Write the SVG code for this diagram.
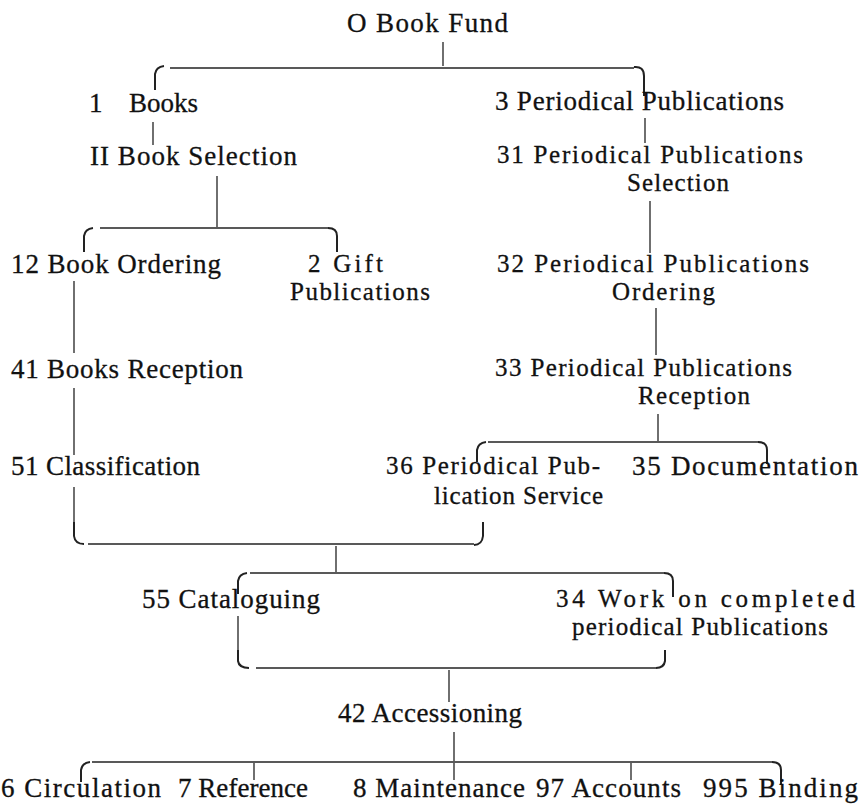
<svg xmlns="http://www.w3.org/2000/svg" width="863" height="808" viewBox="0 0 863 808">
<style>
text{font-family:"Liberation Serif","Times New Roman",serif;font-size:27px;fill:#111;stroke:#111;stroke-width:0.3}
text.t{font-size:25px}
.c line,.c path{stroke:#222;stroke-width:1.3;fill:none}
.c path{stroke-width:2}
</style>
<rect width="863" height="808" fill="#fff"/>
<g class="c" id="connectors">
<line x1="443" y1="42" x2="443" y2="66"/>
<line x1="170" y1="68" x2="634" y2="68"/>
<path d="M155 90 L155 74 Q156 67 164 66"/>
<path d="M634 67 Q644 66 644 76 L644 96"/>
<line x1="153" y1="122" x2="153" y2="145"/>
<line x1="645" y1="118" x2="645" y2="143"/>
<line x1="217" y1="176" x2="217" y2="227"/>
<line x1="100" y1="228" x2="328" y2="228"/>
<path d="M84 252 L84 236 Q85 229 93 228"/>
<path d="M328 228 Q337 228 337 236 L337 252"/>
<line x1="650" y1="201" x2="650" y2="253"/>
<line x1="74" y1="281" x2="74" y2="353"/>
<line x1="656" y1="308" x2="656" y2="355"/>
<line x1="74" y1="388" x2="74" y2="455"/>
<line x1="658" y1="414" x2="658" y2="441"/>
<line x1="488" y1="442" x2="758" y2="442"/>
<path d="M477 462 L477 450 Q478 443 486 442"/>
<path d="M758 442 Q767 442 767 450 L767 464"/>
<line x1="74" y1="487" x2="74" y2="525"/>
<path d="M74 522 L74 536 Q75 544 84 544"/>
<line x1="88" y1="544" x2="474" y2="544"/>
<path d="M483 522 L483 536 Q482 545 474 545"/>
<line x1="336" y1="546" x2="336" y2="572"/>
<line x1="250" y1="573" x2="664" y2="573"/>
<path d="M238 594 L238 581 Q239 574 247 573"/>
<path d="M664 573 Q673 573 673 581 L673 597"/>
<line x1="238" y1="616" x2="238" y2="650"/>
<path d="M238 650 L238 661 Q239 668 249 668"/>
<line x1="256" y1="668" x2="656" y2="668"/>
<path d="M665 650 L665 661 Q664 668 656 668"/>
<line x1="449" y1="670" x2="449" y2="702"/>
<line x1="454" y1="732" x2="454" y2="761"/>
<line x1="92" y1="762" x2="772" y2="762"/>
<path d="M81 782 L81 770 Q82 763 90 762"/>
<path d="M772 762 Q781 762 781 770 L781 785"/>
<line x1="254" y1="763" x2="254" y2="780"/>
<line x1="454" y1="763" x2="454" y2="780"/>
<line x1="631" y1="763" x2="631" y2="780"/>
</g>
<g id="n0"><text x="347" y="32" textLength="161" lengthAdjust="spacing">O Book Fund</text></g>
<g id="n1"><text x="89" y="112">1 <tspan x="129">Books</tspan></text></g>
<g id="n3"><text x="495" y="110" textLength="289" lengthAdjust="spacing">3 Periodical Publications</text></g>
<g id="n11"><text x="90" y="165" textLength="207" lengthAdjust="spacing">II Book Selection</text></g>
<g id="n31"><text class="t" x="497" y="163" textLength="306" lengthAdjust="spacing">31 Periodical Publications</text><text class="t" x="627" y="191" textLength="102" lengthAdjust="spacing">Selection</text></g>
<g id="n12"><text x="11" y="273" textLength="210" lengthAdjust="spacing">12 Book Ordering</text></g>
<g id="n2"><text class="t" x="308" y="272" textLength="75" lengthAdjust="spacing">2 Gift</text><text class="t" x="290" y="300" textLength="140" lengthAdjust="spacing">Publications</text></g>
<g id="n32"><text class="t" x="497" y="272" textLength="312" lengthAdjust="spacing">32 Periodical Publications</text><text class="t" x="612" y="300" textLength="103" lengthAdjust="spacing">Ordering</text></g>
<g id="n41"><text x="11" y="378" textLength="232" lengthAdjust="spacing">41 Books Reception</text></g>
<g id="n33"><text class="t" x="495" y="376" textLength="297" lengthAdjust="spacing">33 Periodical Publications</text><text class="t" x="638" y="404" textLength="112" lengthAdjust="spacing">Reception</text></g>
<g id="n51"><text x="11" y="475" textLength="189" lengthAdjust="spacing">51 Classification</text></g>
<g id="n36"><text class="t" x="386" y="474" textLength="214" lengthAdjust="spacing">36 Periodical Pub-</text><text class="t" x="434" y="504" textLength="169" lengthAdjust="spacing">lication Service</text></g>
<g id="n35"><text x="632" y="475" textLength="226" lengthAdjust="spacing">35 Documentation</text></g>
<g id="n55"><text x="142" y="608" textLength="178" lengthAdjust="spacing">55 Cataloguing</text></g>
<g id="n34"><text class="t" x="556" y="607" textLength="299" lengthAdjust="spacing">34 Work on completed</text><text class="t" x="572" y="635" textLength="256" lengthAdjust="spacing">periodical Publications</text></g>
<g id="n42"><text x="338" y="722" textLength="184" lengthAdjust="spacing">42 Accessioning</text></g>
<g id="n6"><text x="1" y="797" textLength="160" lengthAdjust="spacing">6 Circulation</text></g>
<g id="n7"><text x="178" y="797" textLength="130" lengthAdjust="spacing">7 Reference</text></g>
<g id="n8"><text x="353" y="797" textLength="172" lengthAdjust="spacing">8 Maintenance</text></g>
<g id="n97"><text x="536" y="797" textLength="145" lengthAdjust="spacing">97 Accounts</text></g>
<g id="n995"><text x="703" y="797" textLength="155" lengthAdjust="spacing">995 Binding</text></g>
</svg>
